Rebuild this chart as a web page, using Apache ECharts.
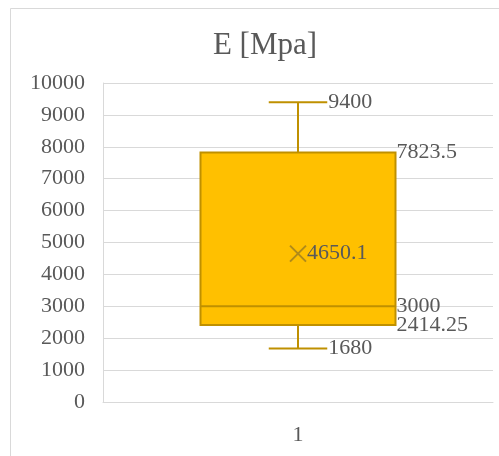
<!DOCTYPE html>
<html>
<head>
<meta charset="utf-8">
<script src="https://cdn.jsdelivr.net/npm/echarts@6/dist/echarts.min.js"></script>
<style>
  html, body { margin: 0; padding: 0; background: #fff; }
  #main { width: 499px; height: 456px; }
</style>
</head>
<body>
<div id="main"></div>
<script>
// 数据
var categories = ['1'];
var whiskerLow = [1680];
var q1 = [2414.25];
var median = [3000];
var q3 = [7823.5];
var whiskerHigh = [9400];
var mean = [4650.1];

var chart = echarts.init(document.getElementById('main'));

var fill = '#FFC000';
var stroke = '#BF9000';
var textColor = '#595959';
var font = '"Liberation Serif", "Times New Roman", serif';
var fs = 22;

var boxData = categories.map(function (c, i) {
  return [i, whiskerLow[i], q1[i], median[i], q3[i], whiskerHigh[i], mean[i]];
});

function lbl(x, y, text) {
  return {
    type: 'text',
    style: {
      x: x, y: y, text: text, fill: textColor,
      font: fs + 'px ' + font, align: 'left', verticalAlign: 'middle'
    }
  };
}

function renderBox(params, api) {
  var idx = api.value(0);
  var pLow = api.coord([idx, api.value(1)]);
  var pQ1 = api.coord([idx, api.value(2)]);
  var pMed = api.coord([idx, api.value(3)]);
  var pQ3 = api.coord([idx, api.value(4)]);
  var pHigh = api.coord([idx, api.value(5)]);
  var pMean = api.coord([idx, api.value(6)]);
  var band = api.size([1, 0])[0];
  var halfBox = band * 0.25;
  var halfCap = band * 0.075;
  var cx = pMed[0];
  var ls = { stroke: stroke, lineWidth: 2 };
  var m = 8;
  return {
    type: 'group',
    children: [
      { type: 'line', shape: { x1: cx, y1: pHigh[1], x2: cx, y2: pQ3[1] }, style: ls },
      { type: 'line', shape: { x1: cx, y1: pLow[1], x2: cx, y2: pQ1[1] }, style: ls },
      { type: 'line', shape: { x1: cx - halfCap, y1: pHigh[1], x2: cx + halfCap, y2: pHigh[1] }, style: ls },
      { type: 'line', shape: { x1: cx - halfCap, y1: pLow[1], x2: cx + halfCap, y2: pLow[1] }, style: ls },
      {
        type: 'rect',
        shape: { x: cx - halfBox, y: pQ3[1], width: halfBox * 2, height: pQ1[1] - pQ3[1] },
        style: { fill: fill, stroke: stroke, lineWidth: 2 }
      },
      { type: 'line', shape: { x1: cx - halfBox, y1: pMed[1], x2: cx + halfBox, y2: pMed[1] }, style: ls },
      { type: 'line', shape: { x1: pMean[0] - m, y1: pMean[1] - m, x2: pMean[0] + m, y2: pMean[1] + m }, style: { stroke: '#B08A1A', lineWidth: 2 } },
      { type: 'line', shape: { x1: pMean[0] - m, y1: pMean[1] + m, x2: pMean[0] + m, y2: pMean[1] - m }, style: { stroke: '#B08A1A', lineWidth: 2 } },
      lbl(cx + halfCap + 1, pHigh[1], String(api.value(5))),
      lbl(cx + halfBox + 1, pQ3[1], String(api.value(4))),
      lbl(pMean[0] + m + 1, pMean[1], String(api.value(6))),
      lbl(cx + halfBox + 1, pMed[1], String(api.value(3))),
      lbl(cx + halfBox + 1, pQ1[1], String(api.value(2))),
      lbl(cx + halfCap + 1, pLow[1], String(api.value(1)))
    ]
  };
}

var option = {
  backgroundColor: '#fff',
  animation: false,
  title: {
    text: 'E [Mpa]',
    left: 260,
    top: 25,
    textAlign: 'center',
    textStyle: { fontFamily: font, fontSize: 31, fontWeight: 'normal', color: textColor }
  },
  graphic: [{
    type: 'rect',
    shape: { x: 10.5, y: 8.5, width: 520, height: 500 },
    style: { fill: 'none', stroke: '#d9d9d9', lineWidth: 1 },
    silent: true
  }],
  grid: { left: 103, right: 6, top: 83, bottom: 54 },
  xAxis: {
    type: 'category',
    data: categories,
    axisLine: { show: true, lineStyle: { color: '#d9d9d9', width: 1 } },
    axisTick: { show: false },
    axisLabel: { color: textColor, fontFamily: font, fontSize: fs, margin: 22 }
  },
  yAxis: {
    type: 'value',
    min: 0,
    max: 10000,
    interval: 1000,
    axisLine: { show: true, lineStyle: { color: '#d9d9d9', width: 1 } },
    axisTick: { show: false },
    splitLine: { lineStyle: { color: '#d9d9d9', width: 1 } },
    axisLabel: {
      color: textColor, fontFamily: font, fontSize: fs, margin: 18,
      formatter: function (v) { return String(v); }
    }
  },
  series: [{
    type: 'custom',
    renderItem: renderBox,
    encode: { x: 0, y: [1, 2, 3, 4, 5] },
    data: boxData
  }]
};

chart.setOption(option);
</script>
</body>
</html>
